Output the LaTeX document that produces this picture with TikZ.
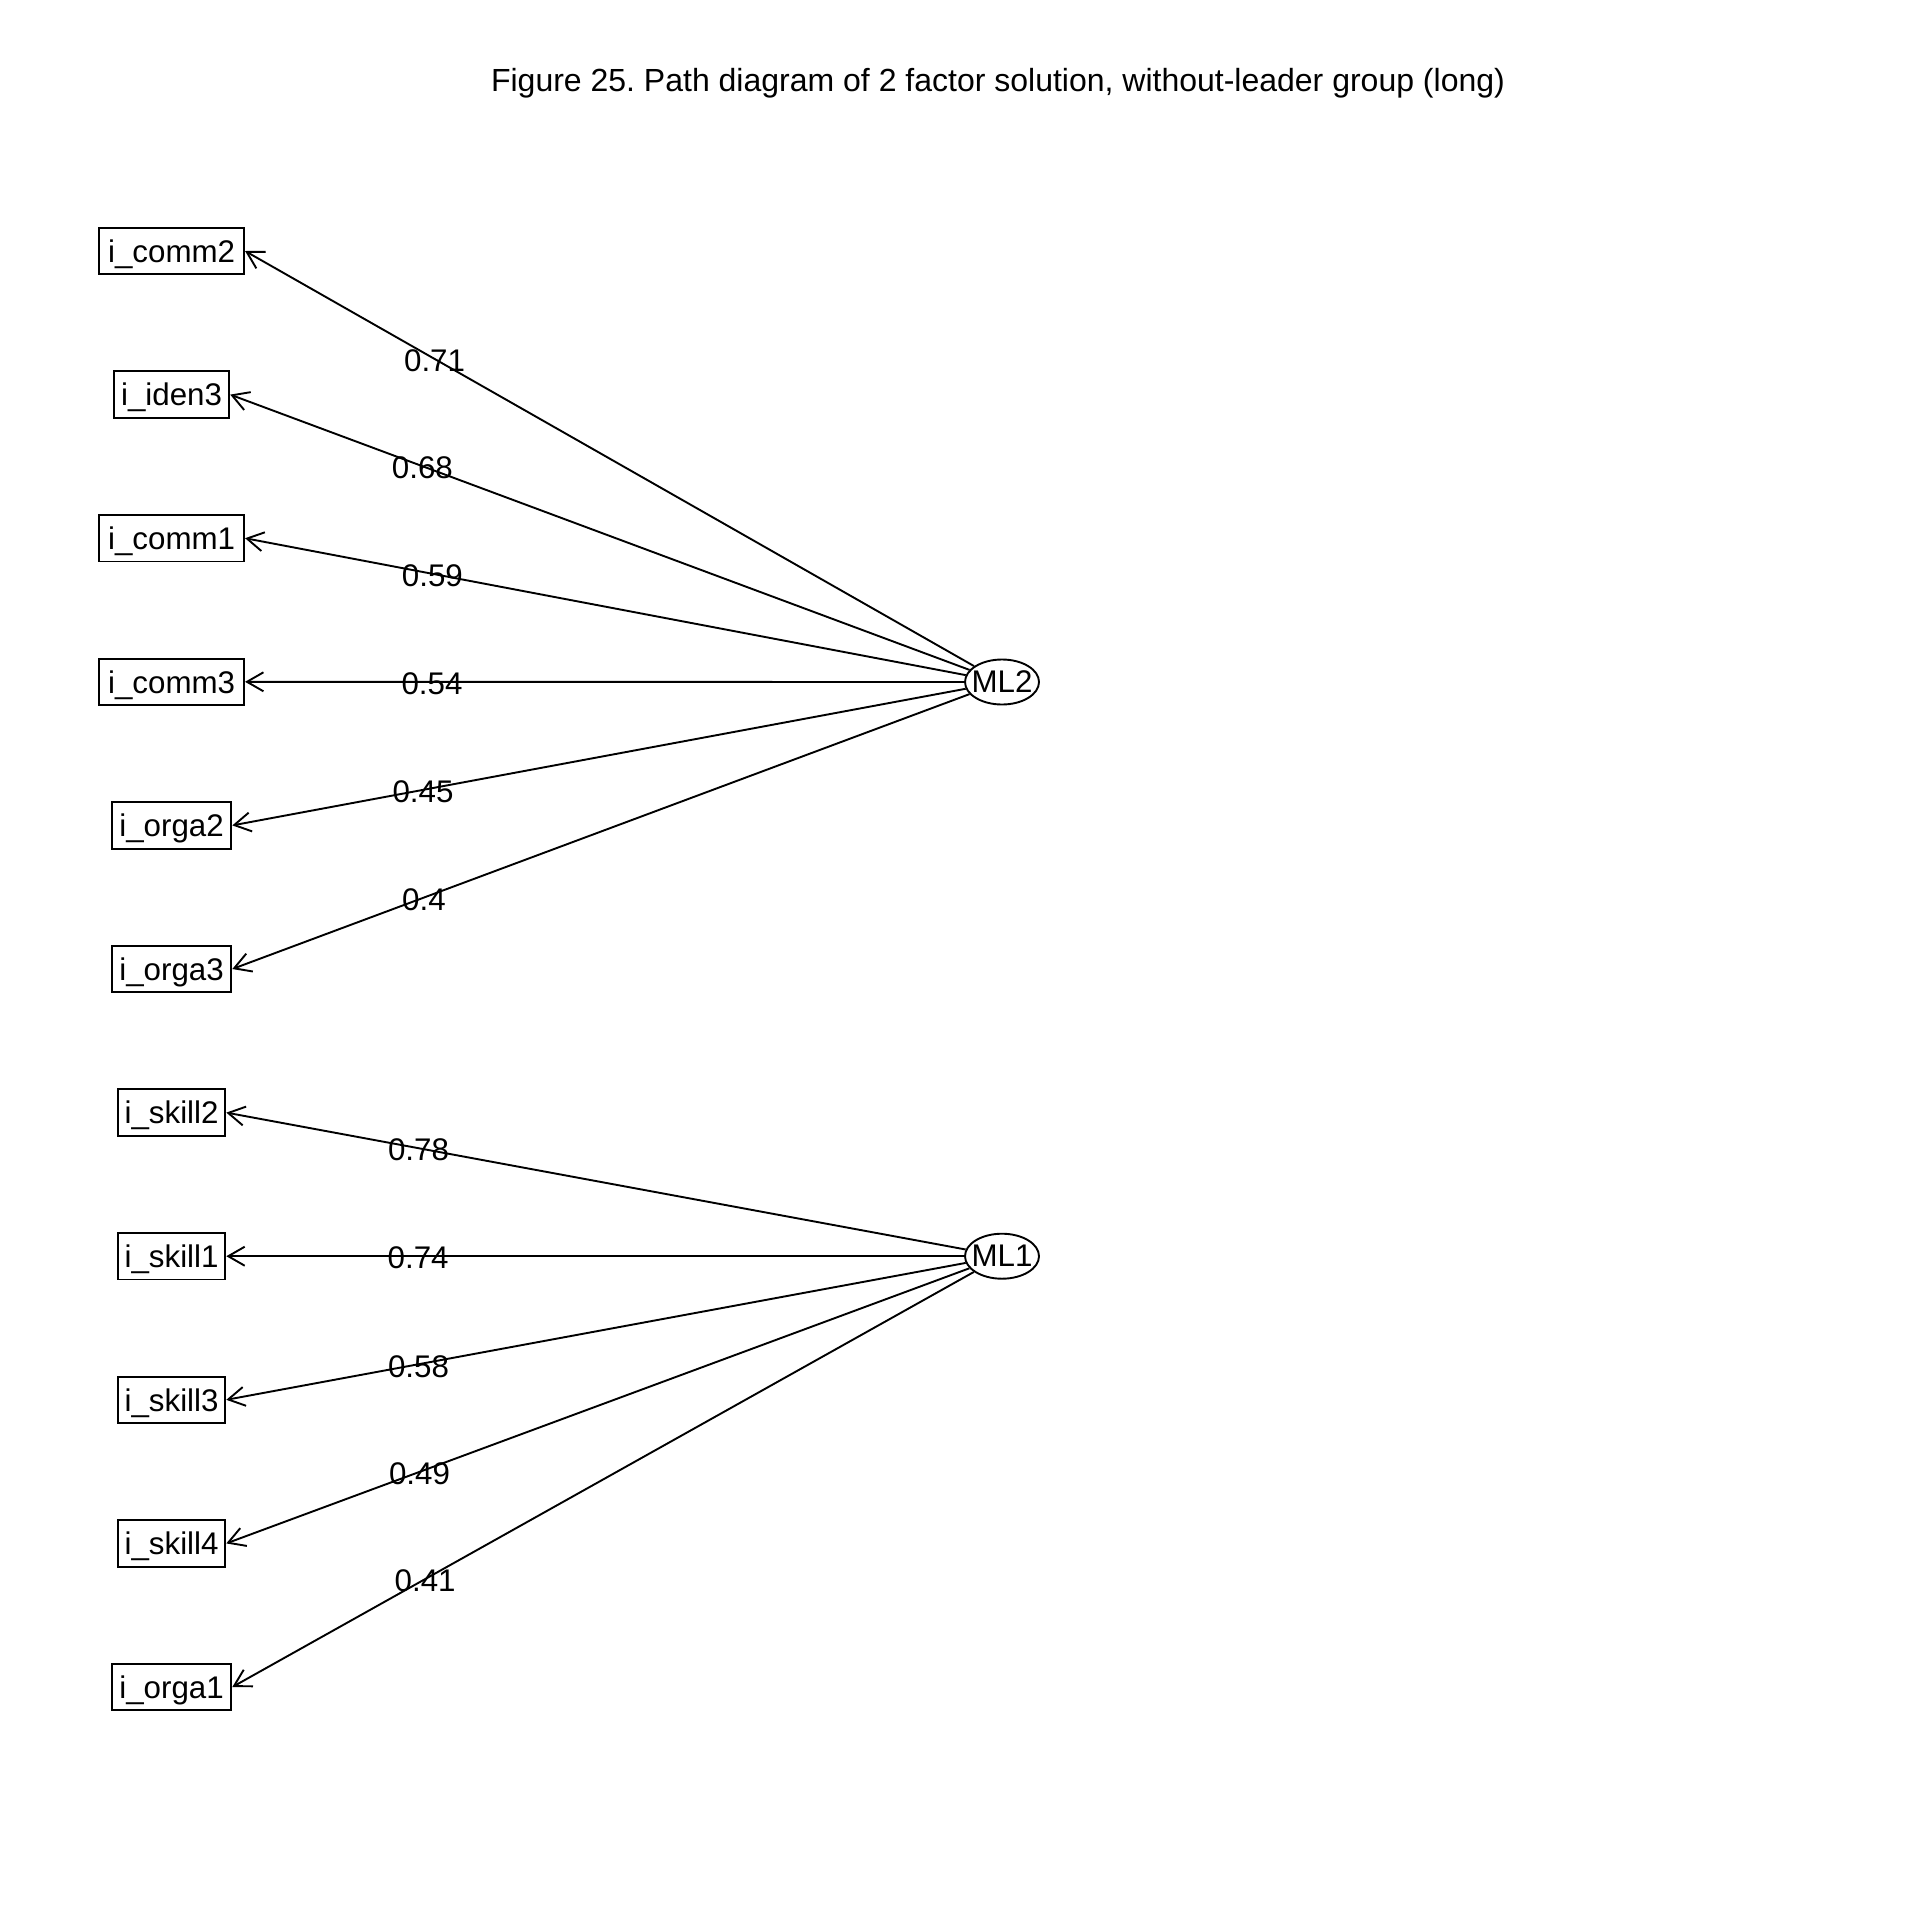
\documentclass[tikz,border=0pt]{standalone}
\usepackage{fontspec}
\setmainfont{Liberation Sans}
\usetikzlibrary{shapes.geometric,arrows.meta}
\frenchspacing
\begin{document}
\begin{tikzpicture}[x=1pt,y=-1pt,
  font=\fontsize{31.3pt}{37pt}\selectfont,
  every node/.style={line width=1.9pt},
  obs/.style={draw,rectangle,minimum height=46.5pt,inner xsep=0pt,inner ysep=0pt,text depth=0pt},
  fac/.style={draw,ellipse,minimum width=74pt,minimum height=45pt,inner sep=0pt},
  arr/.style={line width=1.9pt,-{Straight Barb[length=16.5pt,width=19pt]}},
  lbl/.style={pos=0.74,inner sep=0pt,yshift=-2pt}]
\useasboundingbox[fill=white] (0,0) rectangle (1920,1920);
\node[font=\fontsize{32pt}{38pt}\selectfont] (title) at (998,83.5) {Figure 25. Path diagram of 2 factor solution, without-leader group (long)};
% observed variables
\node[obs,minimum width=145pt]   (c2) at (171.6,251) {i\_comm2};
\node[obs,minimum width=115.3pt] (d3) at (171.6,394.6) {i\_iden3};
\node[obs,minimum width=145pt]   (c1) at (171.6,538.2) {i\_comm1};
\node[obs,minimum width=145pt]   (c3) at (171.6,681.8) {i\_comm3};
\node[obs,minimum width=119.5pt] (o2) at (171.6,825.4) {i\_orga2};
\node[obs,minimum width=119.5pt] (o3) at (171.6,969) {i\_orga3};
\node[obs,minimum width=107.5pt] (s2) at (171.6,1112.6) {i\_skill2};
\node[obs,minimum width=107.5pt] (s1) at (171.6,1256.2) {i\_skill1};
\node[obs,minimum width=107.5pt] (s3) at (171.6,1399.8) {i\_skill3};
\node[obs,minimum width=107.5pt] (s4) at (171.6,1543.4) {i\_skill4};
\node[obs,minimum width=119.5pt] (o1) at (171.6,1687) {i\_orga1};
% factors
\node[fac] (ML2) at (1002,682) {};
\node (ML2t) at (ML2) {ML2};
\node[fac] (ML1) at (1002,1256.2) {};
\node (ML1t) at (ML1) {ML1};
% loadings
\draw[arr] (ML2) -- node[lbl] {0.71} (c2.east);
\draw[arr] (ML2) -- node[lbl] {0.68} (d3.east);
\draw[arr] (ML2) -- node[lbl] {0.59} (c1.east);
\draw[arr] (ML2) -- node[lbl] {0.54} (c3.east);
\draw[arr] (ML2) -- node[lbl] {0.45} (o2.east);
\draw[arr] (ML2) -- node[lbl] {0.4} (o3.east);
\draw[arr] (ML1) -- node[lbl] {0.78} (s2.east);
\draw[arr] (ML1) -- node[lbl] {0.74} (s1.east);
\draw[arr] (ML1) -- node[lbl] {0.58} (s3.east);
\draw[arr] (ML1) -- node[lbl] {0.49} (s4.east);
\draw[arr] (ML1) -- node[lbl] {0.41} (o1.east);
\end{tikzpicture}
\end{document}
